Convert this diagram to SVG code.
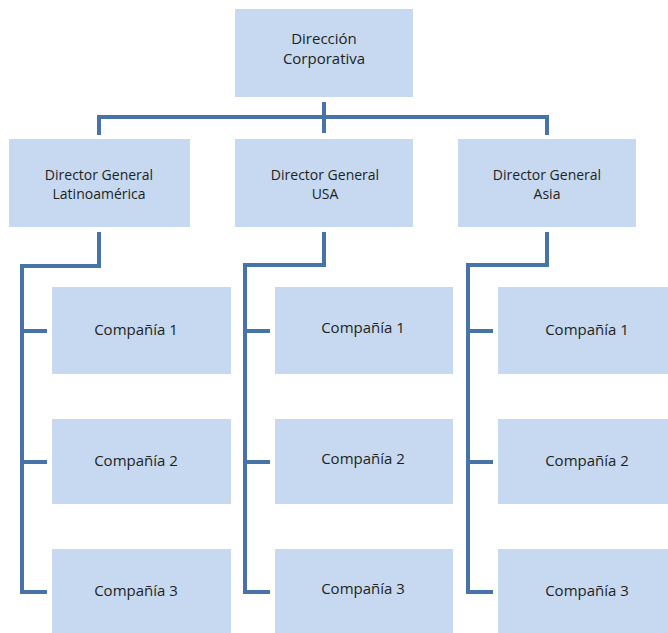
<svg xmlns="http://www.w3.org/2000/svg" width="668" height="633" viewBox="0 0 668 633">
<style>
.box{fill:#c6d9f1;}
.t{font-family:"Open Sans","Liberation Sans",sans-serif;fill:#231f20;text-anchor:middle;}
.t15{font-size:15px;}
.t14{font-size:14px;}
.ln{fill:none;stroke:#4873a9;stroke-width:4;stroke-linejoin:miter;stroke-linecap:butt;}
</style>
<rect width="668" height="633" fill="#ffffff"/>
<g id="connectors">
<path class="ln" d="M324,102 V133"/>
<path class="ln" d="M99,135 V117 H547 V135"/>
<path class="ln" d="M99,232 V266 H22 V593"/>
<path class="ln" d="M20,331 H47 M20,462 H47 M20,592 H47"/>
<path class="ln" d="M324,232 V265 H245 V593"/>
<path class="ln" d="M243,331 H270 M243,462 H270 M243,592 H270"/>
<path class="ln" d="M547,232 V265 H468 V593"/>
<path class="ln" d="M466,331 H493 M466,462 H493 M466,592 H493"/>
</g>
<g id="n-top">
<rect class="box" x="235" y="9" width="178" height="88"/>
<text class="t t15" x="324" y="44">Dirección</text>
<text class="t t15" x="324" y="64">Corporativa</text>
</g>
<g id="n-latam">
<rect class="box" x="9" y="139" width="181" height="88"/>
<text class="t t14" x="99" y="180">Director General</text>
<text class="t t14" x="99" y="199">Latinoamérica</text>
</g>
<g id="n-usa">
<rect class="box" x="235" y="139" width="178" height="88"/>
<text class="t t14" x="325" y="180">Director General</text>
<text class="t t14" x="325" y="199">USA</text>
</g>
<g id="n-asia">
<rect class="box" x="458" y="139" width="178" height="88"/>
<text class="t t14" x="547" y="180">Director General</text>
<text class="t t14" x="547" y="199">Asia</text>
</g>
<g id="n-latam-1"><rect class="box" x="52" y="287" width="179" height="87"/><text class="t t15" x="136" y="335">Compañía 1</text></g>
<g id="n-latam-2"><rect class="box" x="52" y="419" width="179" height="85"/><text class="t t15" x="136" y="466">Compañía 2</text></g>
<g id="n-latam-3"><rect class="box" x="52" y="549" width="179" height="84"/><text class="t t15" x="136" y="596">Compañía 3</text></g>
<g id="n-usa-1"><rect class="box" x="275" y="287" width="178" height="87"/><text class="t t15" x="363" y="333">Compañía 1</text></g>
<g id="n-usa-2"><rect class="box" x="275" y="419" width="178" height="85"/><text class="t t15" x="363" y="464">Compañía 2</text></g>
<g id="n-usa-3"><rect class="box" x="275" y="549" width="178" height="84"/><text class="t t15" x="363" y="594">Compañía 3</text></g>
<g id="n-asia-1"><rect class="box" x="498" y="287" width="178" height="87"/><text class="t t15" x="587" y="335">Compañía 1</text></g>
<g id="n-asia-2"><rect class="box" x="498" y="419" width="178" height="85"/><text class="t t15" x="587" y="466">Compañía 2</text></g>
<g id="n-asia-3"><rect class="box" x="498" y="549" width="178" height="84"/><text class="t t15" x="587" y="596">Compañía 3</text></g>
</svg>
